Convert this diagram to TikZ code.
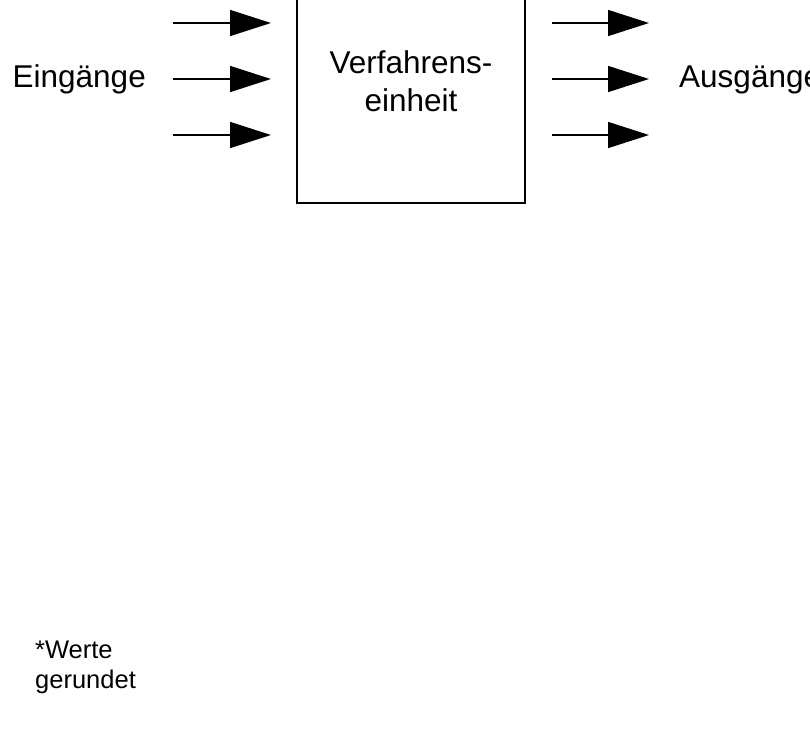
\documentclass[tikz,border=0pt]{standalone}
\usepackage{fontspec}
\setmainfont{Liberation Sans}
\usetikzlibrary{arrows.meta}
\begin{document}
\begin{tikzpicture}[x=1pt,y=-1pt,
	flow/.style={line width=1.5pt,-{Triangle[length=41pt,width=26pt]}},
	bigtext/.style={font=\fontsize{31.5}{38}\selectfont},
	smalltext/.style={font=\fontsize{25.5}{30}\selectfont}
	]
	\clip (0,0) rectangle (810,731);
	\node[draw, line width=1.5pt, minimum width=228pt, minimum height=244pt,
	align=center, bigtext] (unit) at (411,81) {Verfahrens-\\einheit};
	\node[bigtext, inner sep=0pt, anchor=east] (inputs) at (146,79) {Eingänge};
	\node[bigtext, inner sep=0pt, anchor=west] (outputs) at (679,80) {Ausgänge};
	\foreach \y [count=\i] in {23,79,135}{
		\coordinate (in\i) at (173,\y);
		\coordinate (in\i end) at (271,\y);
		\draw[flow] (in\i) -- (in\i end);
		\coordinate (out\i) at (552,\y);
		\coordinate (out\i end) at (649,\y);
		\draw[flow] (out\i) -- (out\i end);
	}
	\node[smalltext, inner sep=0pt, anchor=west, align=left] (note) at (35,667) {*Werte\\gerundet};
\end{tikzpicture}
\end{document}
